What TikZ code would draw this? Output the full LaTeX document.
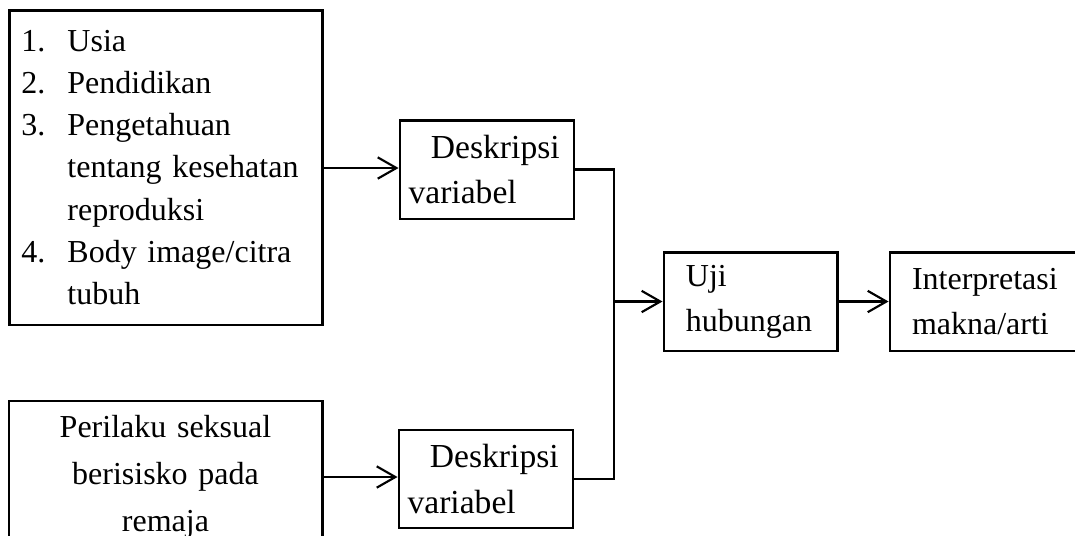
\documentclass[tikz,border=0pt]{standalone}
\usepackage{fontspec}
\setmainfont{Liberation Serif}
\usetikzlibrary{arrows.meta}

\tikzset{
  box/.style={draw, rectangle, line width=1.1pt, inner ysep=0pt, align=left},
  conn/.style={line width=1.1pt},
  arr/.style={line width=0.8pt, -{Straight Barb[length=7pt, width=8pt]}}
}

\begin{document}
\begin{tikzpicture}[x=0.375pt, y=-0.375pt, font=\fontsize{12}{16.9}\selectfont]
\useasboundingbox (0,0) rectangle (1075,535);
\clip (0,0) rectangle (1075,535);

\node[box, inner xsep=4.5pt, text width=108.4pt, minimum height=118.1pt, font=\fontsize{12}{15.8}\selectfont] (factors) at (166,167.5)
  {\makebox[17.25pt][l]{1.}Usia\\
   \makebox[17.25pt][l]{2.}Pendidikan\\
   \makebox[17.25pt][l]{3.}Pengetahuan\\
   \hspace*{17.25pt}tentang kesehatan\\
   \hspace*{17.25pt}reproduksi\\
   \makebox[17.25pt][l]{4.}Body image/citra\\
   \hspace*{17.25pt}tubuh};
\node[box, inner xsep=3.2pt, text width=58.85pt, minimum height=37.1pt, font=\fontsize{12.6}{16.9}\selectfont] (desc1) at (487,169.5) {\hspace*{8.4pt}Deskripsi\\variabel};
\node[box, align=center, inner xsep=0pt, text width=117.4pt, minimum height=57pt, font=\fontsize{12}{17.6}\selectfont] (behav) at (165.5,477) {Perilaku seksual\\berisisko pada\\remaja};
\node[box, inner xsep=3.2pt, text width=58.85pt, minimum height=36.75pt, font=\fontsize{12.6}{16.9}\selectfont] (desc2) at (486,479) {\hspace*{8.4pt}Deskripsi\\variabel};
\node[box, inner xsep=8.25pt, text width=48.4pt, minimum height=37.1pt] (test) at (750.5,301.5) {Uji\\hubungan};
\node[box, inner xsep=8.25pt, text width=62.25pt, minimum height=37.1pt] (interp) at (995,301.5) {Interpretasi\\makna/arti};

\coordinate (join) at (614,301.5);

\draw[arr] (factors.east |- 0,168) -- (desc1.west |- 0,168);
\draw[arr] (behav.east |- 0,477) -- (desc2.west |- 0,477);
\draw[conn] (desc1.east) -- (desc1.east -| join) -- (desc2.east -| join) -- (desc2.east);
\draw[arr] (join) -- (test.west);
\draw[arr] (test.east) -- (interp.west);
\end{tikzpicture}
\end{document}
